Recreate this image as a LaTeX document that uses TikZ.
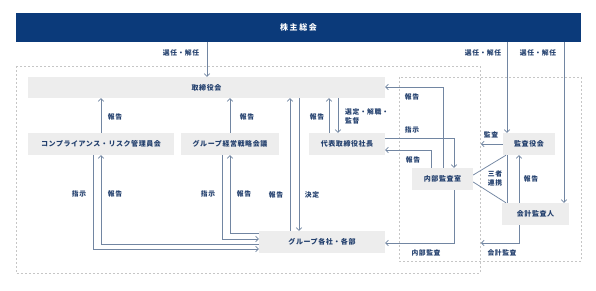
\documentclass[tikz,border=0pt]{standalone}
\usepackage{fontspec}
\setmainfont{Noto Sans CJK JP}[LetterSpace=8]
\usetikzlibrary{arrows.meta,calc}
\definecolor{navy}{HTML}{0B3A7A}
\definecolor{txt}{HTML}{23406E}
\definecolor{ln}{HTML}{7286A2}
\definecolor{boxfill}{HTML}{EDEDED}
\definecolor{dash}{HTML}{C6C6C6}
\begin{document}
\begin{tikzpicture}[x=1pt,y=-1pt,
  bx/.style={fill=boxfill,draw=none,inner sep=0pt,minimum height=22pt,font=\fontsize{7}{8}\selectfont\bfseries,text=txt},
  lb/.style={inner sep=0pt,font=\fontsize{6.8}{8}\selectfont\bfseries,text=txt},
  con/.style={draw=ln,line width=0.75pt,-{Straight Barb[length=2.6pt,width=5.5pt]}},
  conn/.style={draw=ln,line width=0.75pt},
  frame/.style={draw=dash,line width=0.6pt,dash pattern=on 2pt off 2pt}]
\useasboundingbox (0,0) rectangle (596,291);
\fill[white] (0,0) rectangle (596,291);
% dashed frames
\draw[frame] (16,66) rectangle (480,273);
\draw[frame] (399,77) rectangle (581,261);
% boxes
\node[fill=navy,inner sep=0pt,minimum width=565pt,minimum height=29pt,text=white,font=\fontsize{8}{9}\selectfont\bfseries\addfontfeature{LetterSpace=20}] (ghm) at (298.5,27.5) {株主総会};
\node[bx,minimum width=357pt,minimum height=21pt] (tor) at (206.5,87.5) {取締役会};
\node[bx,minimum width=146pt] (cmp) at (101,144) {コンプライアンス・リスク管理員会};
\node[bx,minimum width=98pt] (grp) at (230,144) {グループ経営戦略会議};
\node[bx,minimum width=76pt] (ceo) at (347,144) {代表取締役社長};
\node[bx,minimum width=61pt] (nai) at (442.5,179) {内部監査室};
\node[bx,minimum width=52pt] (kan) at (529,144) {監査役会};
\node[bx,minimum width=67pt] (kai) at (535.5,214) {会計監査人};
\node[bx,minimum width=126pt] (gsb) at (322,242) {グループ各社・各部};
% free ends
\coordinate (kanL) at (481,144);
\coordinate (kaiL) at (481,243);
% shareholders
\draw[con] (ghm.south -| 207,0) -- (tor.north -| 207,0);
\node[lb] at (181,53) {選任・解任};
\draw[con] (ghm.south -| 507,0) -- (kan.north -| 507,0);
\node[lb] at (483,53) {選任・解任};
\draw[con] (ghm.south -| 564,0) -- (kai.north -| 564,0);
\node[lb] at (538,53) {選任・解任};
% to board
\draw[con] (cmp.north -| 101,0) -- (tor.south -| 101,0);
\node[lb] at (115,117) {報告};
\draw[con] (grp.north -| 230,0) -- (tor.south -| 230,0);
\node[lb] at (247,117) {報告};
\draw[con] (gsb.north -| 290,0) -- (tor.south -| 290,0);
\node[lb] at (276,195) {報告};
\draw[con] (tor.south -| 299,0) -- (gsb.north -| 299,0);
\node[lb] at (312,195) {決定};
\draw[con] (ceo.north -| 329,0) -- (tor.south -| 329,0);
\node[lb] at (317,117) {報告};
\draw[con] (tor.south -| 338,0) -- (ceo.north -| 338,0);
\node[lb,anchor=west,align=left] at (345,116.5) {選定・解職・\\[1pt]監督};
% internal audit
\draw[con] (nai.north -| 443,0) |- (tor.east |- 0,87);
\node[lb] at (412,97) {報告};
\draw[con] (ceo.east |- 0,138) -| (nai.north -| 454,0);
\node[lb] at (412,130) {指示};
\draw[con] (nai.north -| 431,0) |- (ceo.east |- 0,150);
\node[lb] at (413,160) {報告};
\draw[con] (nai.south -| 454,0) |- (gsb.east |- 0,243);
\node[lb] at (426,253) {内部監査};
% auditors
\draw[con] (kan.west) -- (kanL);
\node[lb] at (491,135) {監査};
\draw[con] (kai.north -| 519,0) -- (kan.south -| 519,0);
\node[lb] at (531,179) {報告};
\draw[conn] (nai.east |- 0,175) -- (kan.south -| 506,0);
\draw[conn] (nai.east |- 0,182) -- (kai.north -| 506,0);
\draw[conn] (kan.south -| 507,0) -- (kai.north -| 507,0);
\node[lb,align=center] at (495,178.5) {三者\\[1pt]連携};
\draw[con] (kai.south -| 519,0) |- (kaiL);
\node[lb] at (502,253) {会計監査};
% instructions / reports with group companies
\draw[con] (cmp.south -| 93,0) |- (gsb.west |- 0,249);
\node[lb] at (79,194) {指示};
\draw[con] (gsb.west |- 0,244) -| (cmp.south -| 101,0);
\node[lb] at (115,194) {報告};
\draw[con] (grp.south -| 222,0) |- (gsb.west |- 0,239);
\node[lb] at (208,194) {指示};
\draw[con] (gsb.west |- 0,233) -| (grp.south -| 230,0);
\node[lb] at (244,194) {報告};
\end{tikzpicture}
\end{document}
